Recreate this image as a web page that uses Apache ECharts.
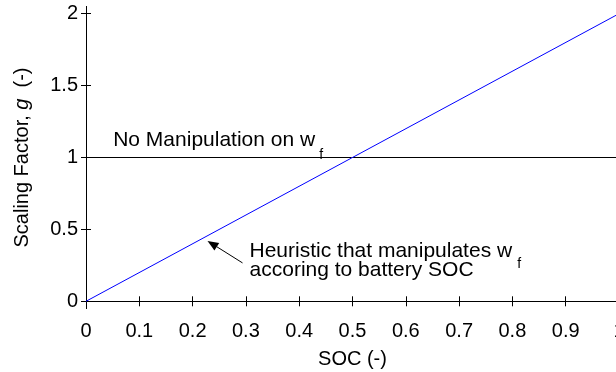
<!DOCTYPE html>
<html><head><meta charset="utf-8">
<script src="https://cdn.jsdelivr.net/npm/echarts@6/dist/echarts.min.js"></script>
<style>html,body{margin:0;padding:0;background:#fff}#c{width:616px;height:372px}</style>
</head><body><div id="c"></div>
<script>
const soc = [0, 1];
const heuristic = [0, 2];
const noManip = [1, 1];
const yTicks = [0, 0.5, 1, 1.5, 2];
const yTickLabels = ['0', '0.5', '1', '1.5', '2'];
const FONT = 'Liberation Sans';
const FS = 20;
const AFS = 21;
const SFS = 14;

const chart = echarts.init(document.getElementById('c'));
const tickStyle = {inside: true, length: 5, lineStyle: {color: '#000', width: 1}};
const opt = {
  animation: false,
  backgroundColor: '#fff',
  grid: {left: 86, top: 6.5, width: 533, height: 302, outerBoundsMode: 'none', containLabel: false},
  xAxis: [{
    type: 'value', min: 0, max: 1, interval: 0.1,
    name: 'SOC (-)', nameLocation: 'middle', nameGap: 41,
    nameTextStyle: {fontFamily: FONT, fontSize: FS, color: '#000'},
    axisLine: {lineStyle: {color: '#000', width: 1}},
    axisTick: tickStyle,
    axisLabel: {fontFamily: FONT, fontSize: FS, color: '#000', margin: 13,
      formatter: v => String(Math.round(v * 10) / 10)},
    splitLine: {show: false}
  }, {
    type: 'value', min: 0, max: 1, interval: 0.1, position: 'top',
    axisLine: {show: true, lineStyle: {color: '#000', width: 1}},
    axisTick: tickStyle,
    axisLabel: {show: false}, splitLine: {show: false}
  }],
  yAxis: [{
    type: 'value', min: -0.05, max: 2.05,
    name: '{n|Scaling Factor, }{i|g}{n|  (-)}', nameLocation: 'middle', nameGap: 54,
    nameTextStyle: {rich: {
      n: {fontFamily: FONT, fontSize: FS, color: '#000'},
      i: {fontFamily: FONT, fontSize: FS, fontStyle: 'italic', color: '#000'}
    }},
    axisLine: {show: true, lineStyle: {color: '#000', width: 1}},
    axisTick: Object.assign({customValues: yTicks}, tickStyle),
    axisLabel: {fontFamily: FONT, fontSize: FS, color: '#000', margin: 8, customValues: yTicks,
      formatter: v => yTickLabels[yTicks.indexOf(Math.round(v * 10) / 10)] ?? ''},
    splitLine: {show: false}
  }, {
    type: 'value', min: -0.05, max: 2.05, position: 'right',
    axisLine: {show: true, lineStyle: {color: '#000', width: 1}},
    axisTick: Object.assign({customValues: yTicks}, tickStyle),
    axisLabel: {show: false}, splitLine: {show: false}
  }],
  series: [{
    type: 'line', data: soc.map((x, i) => [x, noManip[i]]), symbol: 'none',
    lineStyle: {color: '#000', width: 1}, silent: true
  }, {
    type: 'line', data: soc.map((x, i) => [x, heuristic[i]]), symbol: 'none',
    lineStyle: {color: '#0000ff', width: 1}, silent: true
  }]
};
chart.setOption(opt);

const ctx = document.createElement('canvas').getContext('2d');
function tw(t, fs) { ctx.font = fs + 'px "' + FONT + '"'; return ctx.measureText(t).width; }
function px(x, y) { return chart.convertToPixel({xAxisIndex: 0, yAxisIndex: 0}, [x, y]); }
const tip = px(0.228, 0.42);
const tail = [tip[0] + 35, tip[1] + 22];
const ang = Math.atan2(tail[1] - tip[1], tail[0] - tip[0]);
const ah = 11, aw = 4.5;
const b = [tip[0] + ah * Math.cos(ang), tip[1] + ah * Math.sin(ang)];
const nx = -Math.sin(ang), ny = Math.cos(ang);
const noPos = px(0.051, 1);
const ts = {fontFamily: FONT, fontSize: AFS, fill: '#000', verticalAlign: 'middle'};
const t1 = 'No Manipulation on w';
const t2 = 'Heuristic that manipulates w';
const hx = tail[0] + 7, hy = tail[1] - 12;
chart.setOption({graphic: [
  {type: 'line', shape: {x1: b[0], y1: b[1], x2: tail[0], y2: tail[1]}, style: {stroke: '#000', lineWidth: 1}},
  {type: 'polygon', shape: {points: [tip, [b[0] + nx * aw, b[1] + ny * aw], [b[0] - nx * aw, b[1] - ny * aw]]}, style: {fill: '#000'}},
  {type: 'text', x: noPos[0], y: noPos[1] - 17, style: Object.assign({text: t1}, ts)},
  {type: 'text', x: noPos[0] + tw(t1, AFS) + 4, y: noPos[1] - 2, style: Object.assign({text: 'f'}, ts, {fontSize: SFS})},
  {type: 'text', x: hx, y: hy, style: Object.assign({text: t2}, ts)},
  {type: 'text', x: hx, y: hy + 19, style: Object.assign({text: 'accoring to battery SOC'}, ts)},
  {type: 'text', x: hx + tw(t2, AFS) + 5, y: hy + 13, style: Object.assign({text: 'f'}, ts, {fontSize: SFS})}
]});
</script></body></html>
